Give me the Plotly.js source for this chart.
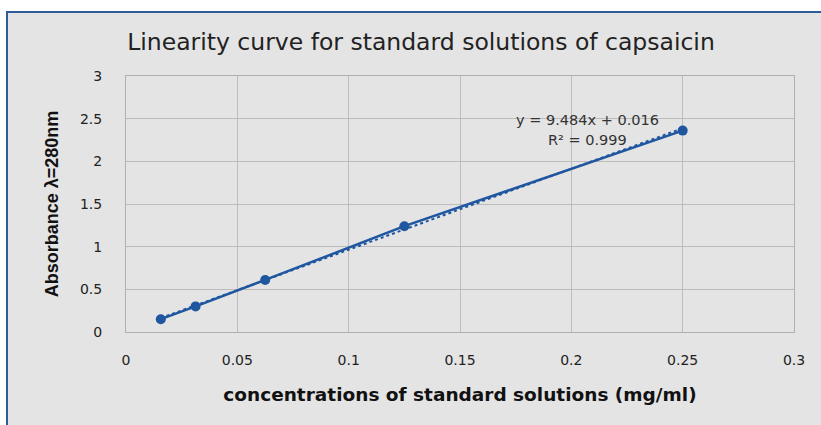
<!DOCTYPE html>
<html>
<head>
<meta charset="utf-8">
<script src="https://cdn.plot.ly/plotly-3.0.1.min.js"></script>
<style>html,body{margin:0;padding:0;background:#fff;}#chart{width:821px;height:425px;}</style>
</head>
<body>
<div id="chart"></div>
<script>
// Data
const concentrations = [0.015625, 0.03125, 0.0625, 0.125, 0.25];
const absorbance = [0.15, 0.30, 0.61, 1.24, 2.36];
// Linear trendline endpoints (y = 9.484x + 0.016)
const trendX = [0.015625, 0.25];
const trendY = [0.164, 2.387];
const xTicks = [0, 0.05, 0.1, 0.15, 0.2, 0.25, 0.3];
const xTickText = ["0", "0.05", "0.1", "0.15", "0.2", "0.25", "0.3"];
const yTicks = [0, 0.5, 1, 1.5, 2, 2.5, 3];
const yTickText = ["0", "0.5", "1", "1.5", "2", "2.5", "3"];
const equationText = "y = 9.484x + 0.016";
const r2Text = "R² = 0.999";

const blue = '#1f56a0';
const bg = '#e4e4e4';

const traces = [
  {
    x: trendX, y: trendY, type: 'scatter', mode: 'lines',
    line: {color: blue, width: 2, dash: 'dot'}, hoverinfo: 'skip', showlegend: false
  },
  {
    x: concentrations, y: absorbance, type: 'scatter', mode: 'lines+markers',
    line: {color: blue, width: 2.5}, marker: {color: blue, size: 10},
    showlegend: false
  }
];

const W = 668, H = 256, L = 126, T = 76;
function px(x){ return (x - L) / W; }
function py(y){ return (T + H - y) / H; }

const tickFont = {family: 'DejaVu Sans, sans-serif', size: 14, color: '#222'};

const layout = {
  width: 821, height: 425,
  margin: {l: 126, r: 27, t: 76, b: 93},
  paper_bgcolor: '#ffffff',
  plot_bgcolor: bg,
  showlegend: false,
  title: {
    text: 'Linearity curve for standard solutions of capsaicin',
    font: {family: 'DejaVu Sans, sans-serif', size: 23.5, color: '#222'},
    x: 421/821, xanchor: 'center', y: 1 - 42/425, yanchor: 'middle'
  },
  xaxis: {
    range: [0, 0.3], tickvals: xTicks, ticktext: xTickText,
    showgrid: true, gridcolor: '#bcbcbc', gridwidth: 1,
    showline: true, linecolor: '#b0b0b0', linewidth: 1, mirror: true,
    zeroline: false, ticks: '', ticklabelstandoff: 15,
    tickfont: tickFont,
    title: {text: 'concentrations of standard solutions (mg/ml)',
      font: {family: 'DejaVu Sans, sans-serif', size: 18.5, color: '#111', weight: 'bold'},
      standoff: 21}
  },
  yaxis: {
    range: [0, 3], tickvals: yTicks, ticktext: yTickText,
    showgrid: true, gridcolor: '#bcbcbc', gridwidth: 1,
    showline: true, linecolor: '#b0b0b0', linewidth: 1, mirror: true,
    zeroline: false, ticks: '', ticklabelstandoff: 20,
    tickfont: tickFont,
    title: {text: 'Absorbance λ=280nm',
      font: {family: 'Liberation Sans, Arial, sans-serif', size: 18, color: '#111', weight: 'bold'},
      standoff: 16}
  },
  shapes: [
    {type: 'rect', xref: 'paper', yref: 'paper', layer: 'below',
     x0: px(7), x1: px(830), y0: py(440), y1: py(12),
     fillcolor: bg, line: {color: '#2e5c96', width: 2}}
  ],
  annotations: [
    {xref: 'paper', yref: 'paper', x: px(587), y: py(120), text: equationText, showarrow: false,
     font: {family: 'DejaVu Sans, sans-serif', size: 14.5, color: '#333'}, xanchor: 'center', yanchor: 'middle'},
    {xref: 'paper', yref: 'paper', x: px(587), y: py(140), text: r2Text, showarrow: false,
     font: {family: 'DejaVu Sans, sans-serif', size: 14.5, color: '#333'}, xanchor: 'center', yanchor: 'middle'}
  ]
};

Plotly.newPlot('chart', traces, layout, {displayModeBar: false, staticPlot: true});
</script>
</body>
</html>
